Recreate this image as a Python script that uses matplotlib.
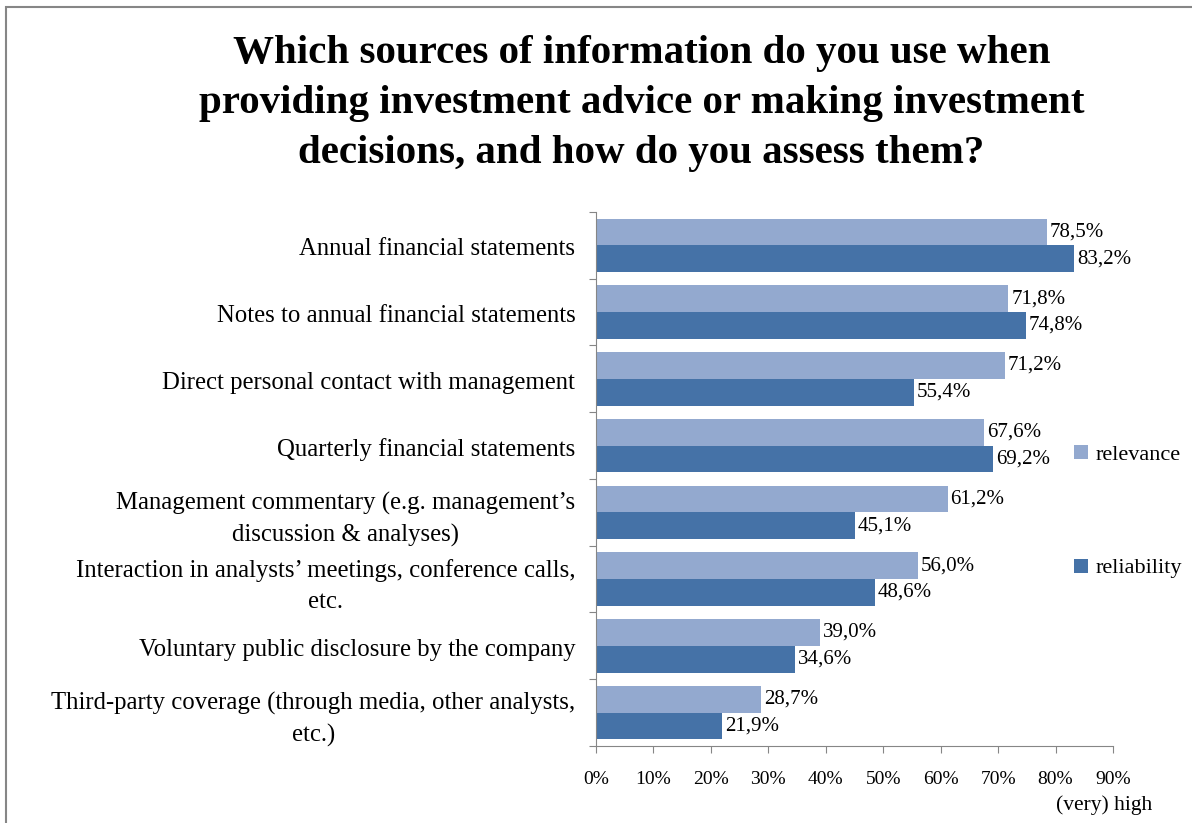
import numpy as np
import matplotlib.pyplot as plt
from matplotlib.patches import Rectangle

plt.rcParams['font.family'] = ['Liberation Serif', 'DejaVu Serif']

# ----- data -----
categories = [
    "Annual financial statements",
    "Notes to annual financial statements",
    "Direct personal contact with management",
    "Quarterly financial statements",
    "Management commentary (e.g. management\u2019s\ndiscussion & analyses)",
    "Interaction in analysts\u2019 meetings, conference calls,\netc.",
    "Voluntary public disclosure by the company",
    "Third-party coverage (through media, other analysts,\netc.)",
]
relevance = [78.5, 71.8, 71.2, 67.6, 61.2, 56.0, 39.0, 28.7]
reliability = [83.2, 74.8, 55.4, 69.2, 45.1, 48.6, 34.6, 21.9]
x_ticks = [0, 10, 20, 30, 40, 50, 60, 70, 80, 90]

c_rel = '#93A9CF'
c_reli = '#4572A7'
axis_gray = '#868686'

fig = plt.figure(figsize=(11.92, 8.23), dpi=100)
ax = fig.add_axes([0.5, 0.0936, 0.4337, 0.6488])

n = len(categories)
y = np.arange(n)
h = 0.4
b1 = ax.barh(y - h / 2, relevance, height=h, color=c_rel, label='relevance')
b2 = ax.barh(y + h / 2, reliability, height=h, color=c_reli, label='reliability')

def pct(v):
    return f"{v:.1f}%".replace('.', ',')

for bars, vals in ((b1, relevance), (b2, reliability)):
    for bar, v in zip(bars, vals):
        ax.text(v + 0.5, bar.get_y() + bar.get_height() / 2, pct(v),
                va='center', ha='left', fontsize=15)

ax.set_xlim(0, 90)
ax.set_ylim(n - 0.5, -0.5)
ax.set_xticks(x_ticks)
ax.set_xticklabels([f"{t}%" for t in x_ticks], fontsize=14)
ax.tick_params(axis='x', length=5, color=axis_gray, pad=13)

# category ticks sit between groups, labels at group centres
ax.set_yticks(np.arange(n + 1) - 0.5)
ax.set_yticklabels([])
ax.tick_params(axis='y', length=5, color=axis_gray)
for i, lab in enumerate(categories):
    shift = 0.1 if '\n' in lab else 0.06
    ax.text(-3.6, i + shift, lab, ha='right', va='center', multialignment='center',
            fontsize=17.8, linespacing=1.5)

for side in ('top', 'right'):
    ax.spines[side].set_visible(False)
for side in ('left', 'bottom'):
    ax.spines[side].set_color(axis_gray)

fig.text(0.967, 0.022, "(very) high", ha='right', va='center', fontsize=15.5)

fig.suptitle("Which sources of information do you use when\n"
             "providing investment advice or making investment\n"
             "decisions, and how do you assess them?",
             x=0.538, y=0.957, ha='center', va='top',
             fontsize=29.5, fontweight='bold', linespacing=1.45)

fig.legend(handles=[b1, b2], loc='center left', bbox_to_anchor=(0.8845, 0.378),
           frameon=False, fontsize=16, handlelength=0.6, handleheight=0.6,
           handletextpad=0.35, labelspacing=4.2)

# outer frame of the chart area
fig.patches.append(Rectangle((6 / 1192, -0.1), 1.2, 1 - 7 / 823 + 0.1,
                             transform=fig.transFigure, fill=False,
                             edgecolor=axis_gray, linewidth=1.5))

fig.savefig('out.png', dpi=100)
